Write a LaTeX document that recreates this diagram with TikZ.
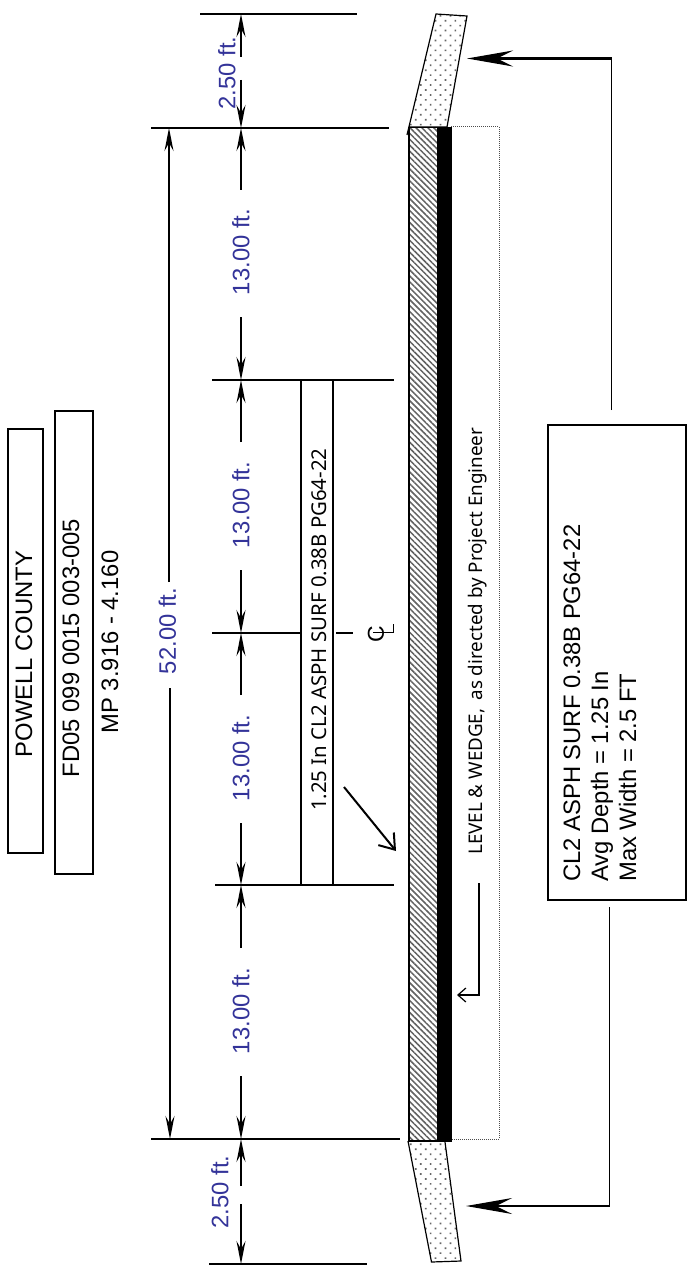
\documentclass[tikz,border=0pt]{standalone}
\usepackage{fontspec}
\setmainfont{Liberation Sans}
\newfontfamily\tahomalike{Noto Sans}
\usetikzlibrary{arrows.meta,patterns.meta}
\definecolor{dimblue}{RGB}{51,51,153}
\tikzset{
 txt/.style={rotate=90,inner sep=0pt,font=\fontsize{23.8}{26}\selectfont,text=black},
 dimtxt/.style={rotate=90,inner sep=0pt,font=\fontsize{23.8}{26}\selectfont,text=dimblue},
 box/.style={draw,line width=1.2pt},
 dimline/.style={line width=1.2pt,-{Stealth[length=23pt,width=9pt,inset=8pt]}},
 ext/.style={line width=1.3pt},
 big/.style={-{Stealth[length=46pt,width=16pt,inset=16pt]}},
 dotfill/.style={pattern={Dots[angle=45,distance=7pt,radius=1.2pt]},pattern color=black!60},
 hatchfill/.style={pattern={Lines[angle=-45,distance=4.2pt,line width=1.5pt]},pattern color=black!62}
}
\begin{document}
\begin{tikzpicture}[x=1pt,y=-1pt]
\useasboundingbox (0,0) rectangle (686,1268);
% title boxes
\draw[box] (8,429) rectangle (43,853);
\node[txt] (t1) at (24,654) {POWELL COUNTY};
\draw[box] (55,411) rectangle (93,874);
\node[txt] (t2) at (71,648) {FD05 099 0015 003-005};
\node[txt] (t3) at (110,642) {MP 3.916 - 4.160};
% extension lines
\draw[ext] (200,14)--(357,14);
\draw[ext] (151,128)--(389,128);
\draw[ext] (212,380)--(394,380);
\draw[ext] (212,633)--(300,633);
\draw[ext] (336,633)--(353,633);
\draw[ext] (215,885)--(394,885);
\draw[ext] (151,1139)--(400,1139);
\draw[ext] (209,1264)--(367,1264);
% dims
\coordinate (a0) at (241,14); \coordinate (a1) at (241,128); \coordinate (a2) at (241,380);
\coordinate (a3) at (241,633); \coordinate (a4) at (241,885); \coordinate (a5) at (241,1139); \coordinate (a6) at (241,1264);
\node[dimtxt] (d0) at (227,73) {2.50 ft.};
\draw[dimline] (241,57)--(a0);
\draw[dimline] (241,80)--(a1);
\node[dimtxt] (d1) at (241,252) {13.00 ft.};
\draw[dimline] (241,190)--(a1);
\draw[dimline] (241,317)--(a2);
\node[dimtxt] (d2) at (241,505) {13.00 ft.};
\draw[dimline] (241,442)--(a2);
\draw[dimline] (241,570)--(a3);
\node[dimtxt] (d3) at (241,758) {13.00 ft.};
\draw[dimline] (241,695)--(a3);
\draw[dimline] (241,823)--(a4);
\node[dimtxt] (d4) at (241,1011) {13.00 ft.};
\draw[dimline] (241,948)--(a4);
\draw[dimline] (241,1076)--(a5);
\node[dimtxt] (d5) at (220,1192) {2.50 ft.};
\draw[dimline] (241,1186)--(a5);
\draw[dimline] (241,1204)--(a6);
\node[dimtxt] (d6) at (167.5,631) {52.00 ft.};
\coordinate (t) at (169,128); \coordinate (b) at (170,1139);
\coordinate (g1) at (169,582); \coordinate (g2) at (170,688);
\draw[dimline] (g1)--(t);
\draw[dimline] (g2)--(b);
% callout
\draw[box] (301,380) rectangle (333,885);
\node[rotate=90,inner sep=0pt,anchor=base west,font=\tahomalike\fontsize{20.4}{22}\selectfont] (cl) at (326,811) {1.25 In CL2 ASPH SURF 0.38B PG64-22};
\coordinate (ca) at (344,787); \coordinate (cb) at (396,851);
\draw[line width=2pt,-{Straight Barb[length=14pt,width=20pt]}] (ca)--(cb);
% CL
\node[rotate=90,inner sep=0pt,font=\fontsize{23}{24}\selectfont] (cc) at (376,634.5) {C};
\draw[line width=1.2pt] (373,632.5)--(393.5,632.5)--(393.5,623.5);
% road
\fill[hatchfill] (409,128) rectangle (437,1141);
\draw[line width=1.2pt] (409,128)--(409,1141)--(437,1141);
\draw[line width=1.2pt] (409,127.5)--(437,127.5);
\fill[black] (436.5,127) rectangle (451.5,1142);
\draw[densely dotted,line width=1pt,black!70] (451,127)--(499,127)--(499,1139)--(451,1139);
% shoulders
\draw[line width=1.2pt,dotfill] (407,135)--(436,14)--(467,16)--(447,127)--(409,127);
\draw[line width=1.2pt,dotfill] (408,1141)--(431.5,1262)--(461,1261)--(445,1142);
% level & wedge
\node[rotate=90,inner sep=0pt,anchor=base west,font=\tahomalike\fontsize{18.8}{20}\selectfont] (lw) at (482,855) {LEVEL \& WEDGE, \,as directed by Project Engineer};
\coordinate (w0) at (479,883); \coordinate (w1) at (479,995); \coordinate (w2) at (457,995);
\draw[line width=1.2pt,-{Straight Barb[length=8pt,width=14pt]}] (w0)--(w1)--(w2);
% note
\draw[box] (548,425) rectangle (686,900);
\node[rotate=90,inner sep=0pt,align=left,anchor=west,font=\fontsize{23.8}{28}\selectfont] (note) at (600,882) {CL2 ASPH SURF 0.38B PG64-22\\Avg Depth = 1.25 In\\Max Width = 2.5 FT};
\coordinate (n1) at (611.5,410); \coordinate (n2) at (611.5,58.5); \coordinate (n3) at (467,58.5);
\draw[line width=0.8pt] (n1)--(n2);
\draw[line width=2.5pt,big] (n2)--(n3);
\coordinate (m1) at (609.5,907); \coordinate (m2) at (609.5,1206); \coordinate (m3) at (466,1206);
\draw[line width=1.7pt,big] (m1)--(m2)--(m3);
\end{tikzpicture}
\end{document}
